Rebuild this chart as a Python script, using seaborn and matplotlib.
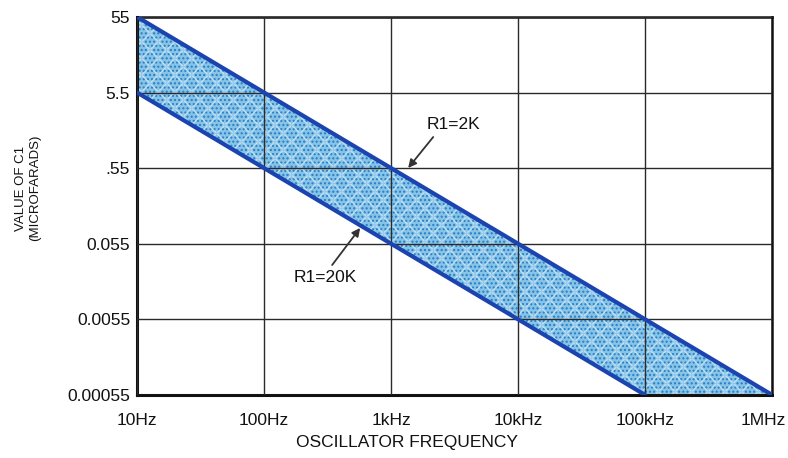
"""C1 value vs oscillator frequency"""
import numpy as np
import pandas as pd
import matplotlib
matplotlib.use("Agg")
import matplotlib.pyplot as plt
import matplotlib.transforms as mtrans
import seaborn as sns
from matplotlib.ticker import FixedLocator, NullLocator

# 数据
freq = [10, 100, 1e3, 1e4, 1e5, 1e6]
freq_labels = ["10Hz", "100Hz", "1kHz", "10kHz", "100kHz", "1MHz"]
c1_2k = [55, 5.5, 0.55, 0.055, 0.0055, 0.00055]
freq_20k = [10, 100, 1e3, 1e4, 1e5]
c1_20k = [5.5, 0.55, 0.055, 0.0055, 0.00055]
band_low = [5.5, 0.55, 0.055, 0.0055, 0.00055, 0.00055]
c1_ticks = [0.00055, 0.0055, 0.055, 0.55, 5.5, 55]
c1_labels = ["0.00055", "0.0055", "0.055", ".55", "5.5", "55"]

sns.set_theme(style="white")
plt.rcParams['font.family'] = ['Liberation Sans', 'DejaVu Sans']

fig = plt.figure(figsize=(7.88, 4.58), dpi=100)
ax = fig.add_axes([0.174, 0.1376, 0.806, 0.8254])
ax.set_xscale("log")
ax.set_yscale("log")

# 阴影带
ax.fill_between(freq, band_low, c1_2k, facecolor="#86c4e8", edgecolor="#2a7cc4",
                hatch="....", linewidth=0, zorder=1)
ax.fill_between(freq, band_low, c1_2k, facecolor="none", edgecolor="#e8f4fb",
                hatch="xx", linewidth=0, alpha=0.6, zorder=1)

df2k = pd.DataFrame({"f": freq, "c": c1_2k})
df20k = pd.DataFrame({"f": freq_20k, "c": c1_20k})
sns.lineplot(data=df2k, x="f", y="c", ax=ax, color="#1b44b0", linewidth=3.0, zorder=3)
sns.lineplot(data=df20k, x="f", y="c", ax=ax, color="#1b44b0", linewidth=3.0, zorder=3)

ax.set_xlim(10, 1e6)
ax.set_ylim(0.00055, 55)
ax.xaxis.set_major_locator(FixedLocator(freq))
ax.xaxis.set_minor_locator(NullLocator())
ax.yaxis.set_major_locator(FixedLocator(c1_ticks))
ax.yaxis.set_minor_locator(NullLocator())
ax.set_xticklabels(freq_labels, fontsize=12.5)
ax.set_yticklabels(c1_labels, fontsize=12.5)
ax.tick_params(axis="x", length=0, pad=13, colors="#111111")
ax.tick_params(axis="y", length=0, pad=5, colors="#111111")
# 最后一个标签稍微左移
last = ax.get_xticklabels()[-1]
last.set_transform(last.get_transform() + mtrans.ScaledTranslation(-9 / 100, 0, fig.dpi_scale_trans))
ax.grid(True, color="#2a2a2a", linewidth=1.0, zorder=2)
ax.set_axisbelow(False)
ax.set_xlabel("")
ax.set_ylabel("")
for side in ["left", "bottom"]:
    ax.spines[side].set_linewidth(2.2)
    ax.spines[side].set_color("#111111")
for side in ["top", "right"]:
    ax.spines[side].set_linewidth(1.8)
    ax.spines[side].set_color("#111111")

# 标注
arrow = dict(arrowstyle="-|>", color="#333333", lw=1.3, shrinkA=0, shrinkB=0, mutation_scale=12)
ax.text(3076, 2.05, "R1=2K", fontsize=12.5, ha="center", va="center", color="#111111")
ax.annotate("", xy=(1361, 0.553), xytext=(2143, 1.42), arrowprops=arrow)
ax.text(302, 0.0194, "R1=20K", fontsize=12.5, ha="center", va="center", color="#111111")
ax.annotate("", xy=(570, 0.089), xytext=(343, 0.0288), arrowprops=arrow)

fig.text(407 / 788, 1 - 443 / 458, "OSCILLATOR FREQUENCY", ha="center", va="center",
         fontsize=12.5, color="#111111")
fig.text(28 / 788, 1 - 188 / 458, "VALUE OF C1\n(MICROFARADS)", ha="center", va="center",
         rotation=90, fontsize=9.5, color="#111111", linespacing=1.3)

fig.savefig("out.png", dpi=100)
